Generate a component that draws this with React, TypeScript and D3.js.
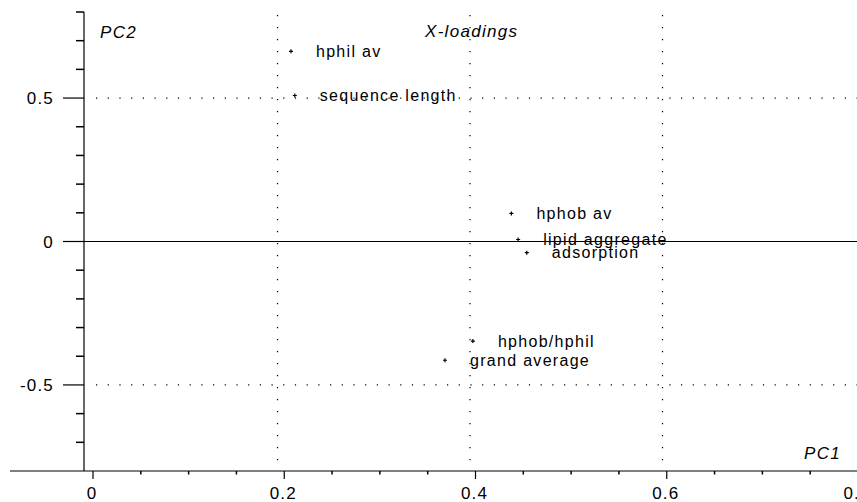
import React from "react";
import * as d3 from "d3";

const variables = ["hphil av", "sequence length", "hphob av", "lipid aggregate", "adsorption", "hphob/hphil", "grand average"];
const pc1 = [0.214, 0.218, 0.443, 0.45, 0.459, 0.403, 0.374];
const pc2 = [0.663, 0.509, 0.098, 0.007, -0.039, -0.347, -0.414];
const xMajorTicks = [0, 0.2, 0.4, 0.6, 0.8];
const xMinorTicks = [0.05, 0.1, 0.15, 0.25, 0.3, 0.35, 0.45, 0.5, 0.55, 0.65, 0.7, 0.75];
const yMajorTicks = [0.5, 0, -0.5];
const yMinorTicks = [0.8, 0.7, 0.6, 0.4, 0.3, 0.2, 0.1, -0.1, -0.2, -0.3, -0.4, -0.6, -0.7];
const xGrid = [0.2, 0.4, 0.6];
const yGrid = [0.5, -0.5];

const W = 857;
const H = 502;

export default function App() {
  const x = d3.scaleLinear().domain([0, 0.8]).range([85, 855]);
  const xt = d3.scaleLinear().domain([0, 0.8]).range([93, 858]);
  const y = d3.scaleLinear().domain([-0.8, 0.8]).range([471, 12]);
  const axisX = 84;
  const axisY = y(-0.8);
  const tickFont = { fontFamily: "Liberation Sans, Arial, sans-serif", fontSize: 17, letterSpacing: 1.2 } as const;
  const labFont = { fontFamily: "Liberation Sans, Arial, sans-serif", fontSize: 16, letterSpacing: 1.3 } as const;
  const itFont = { fontFamily: "Liberation Sans, Arial, sans-serif", fontSize: 17, letterSpacing: 1.3, fontStyle: "italic" } as const;

  return (
    <svg width={W} height={H} style={{ position: "absolute", left: 0, top: 0, background: "#fff" }}>
      <rect x={0} y={0} width={W} height={H} fill="#fff" />
      {/* grid */}
      {xGrid.map((v) => (
        <line key={"gx" + v} x1={x(v)} x2={x(v)} y1={15} y2={axisY} stroke="#000" strokeWidth={1.2} strokeDasharray="1.2 10.8" />
      ))}
      {yGrid.map((v) => (
        <line key={"gy" + v} x1={96} x2={W} y1={y(v)} y2={y(v)} stroke="#000" strokeWidth={1.2} strokeDasharray="1.2 10.5" />
      ))}
      {/* zero line */}
      <line x1={63} x2={W} y1={y(0)} y2={y(0)} stroke="#000" strokeWidth={1.2} />
      {/* y axis */}
      <line x1={axisX} x2={axisX} y1={y(0.8)} y2={axisY} stroke="#000" strokeWidth={1.2} />
      {yMinorTicks.map((v) => (
        <line key={"ym" + v} x1={76} x2={axisX} y1={y(v)} y2={y(v)} stroke="#000" strokeWidth={1.5} />
      ))}
      {yMajorTicks.map((v) => (
        <g key={"yM" + v}>
          <line x1={63} x2={axisX} y1={y(v)} y2={y(v)} stroke="#000" strokeWidth={1.2} />
          <text x={54} y={y(v)} dy="0.36em" textAnchor="end" style={tickFont}>{String(v)}</text>
        </g>
      ))}
      {/* x axis */}
      <line x1={10} x2={W} y1={axisY} y2={axisY} stroke="#000" strokeWidth={1.2} />
      {xMinorTicks.map((v) => (
        <line key={"xm" + v} x1={xt(v)} x2={xt(v)} y1={axisY} y2={axisY + 3.5} stroke="#000" strokeWidth={1.5} />
      ))}
      {xMajorTicks.map((v) => (
        <g key={"xM" + v}>
          <line x1={xt(v)} x2={xt(v)} y1={axisY} y2={axisY + 8} stroke="#000" strokeWidth={1.2} />
          <text x={xt(v) - 1} y={499} textAnchor="middle" style={tickFont}>{String(v)}</text>
        </g>
      ))}
      {/* titles */}
      <text x={100} y={38} style={itFont}>PC2</text>
      <text x={425} y={37} style={itFont}>X-loadings</text>
      <text x={804} y={459} style={itFont}>PC1</text>
      {/* points */}
      {variables.map((name, i) => {
        const px = x(pc1[i]);
        const py = y(pc2[i]);
        return (
          <g key={name}>
            <path d={`M${px - 2},${py}H${px + 2}M${px},${py - 2}V${py + 2}`} stroke="#000" strokeWidth={1.2} />
            <text x={px + 25} y={py} dy="0.36em" style={labFont}>{name}</text>
          </g>
        );
      })}
    </svg>
  );
}
